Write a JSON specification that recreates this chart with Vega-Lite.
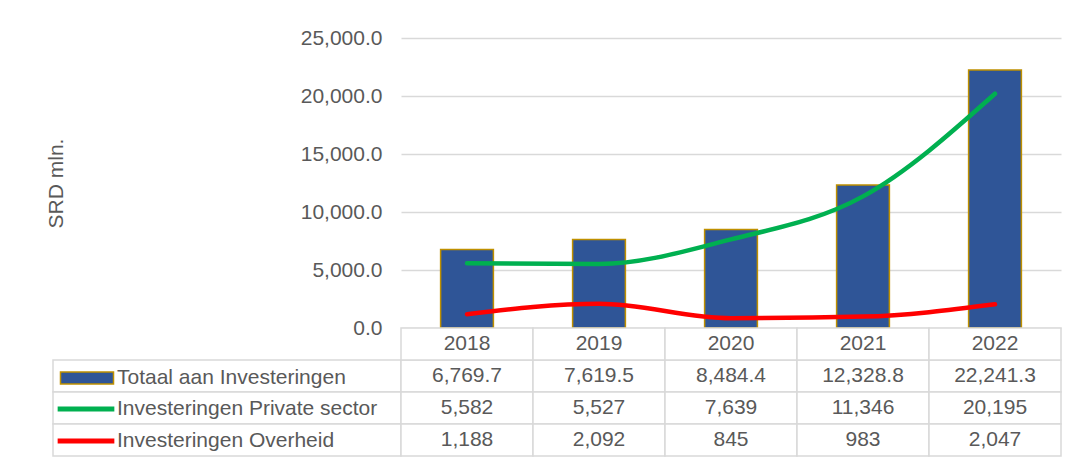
{
  "$schema": "https://vega.github.io/schema/vega-lite/v6.json",
  "padding": {"left": 45, "top": 27, "right": 0, "bottom": 0},
  "background": "white",
  "config": {"font": "Liberation Sans", "view": {"stroke": null}},
  "datasets": {
    "inv": [
      {"jaar": "2018", "reeks": "Totaal aan Investeringen", "waarde": 6769.7},
      {"jaar": "2019", "reeks": "Totaal aan Investeringen", "waarde": 7619.5},
      {"jaar": "2020", "reeks": "Totaal aan Investeringen", "waarde": 8484.4},
      {"jaar": "2021", "reeks": "Totaal aan Investeringen", "waarde": 12328.8},
      {"jaar": "2022", "reeks": "Totaal aan Investeringen", "waarde": 22241.3},
      {"jaar": "2018", "reeks": "Investeringen Private sector", "waarde": 5582},
      {"jaar": "2019", "reeks": "Investeringen Private sector", "waarde": 5527},
      {"jaar": "2020", "reeks": "Investeringen Private sector", "waarde": 7639},
      {"jaar": "2021", "reeks": "Investeringen Private sector", "waarde": 11346},
      {"jaar": "2022", "reeks": "Investeringen Private sector", "waarde": 20195},
      {"jaar": "2018", "reeks": "Investeringen Overheid", "waarde": 1188},
      {"jaar": "2019", "reeks": "Investeringen Overheid", "waarde": 2092},
      {"jaar": "2020", "reeks": "Investeringen Overheid", "waarde": 845},
      {"jaar": "2021", "reeks": "Investeringen Overheid", "waarde": 983},
      {"jaar": "2022", "reeks": "Investeringen Overheid", "waarde": 2047}
    ]
  },
  "columns": 2,
  "spacing": 0,
  "bounds": "flush",
  "concat": [
    {
      "width": 348,
      "height": 290,
      "data": {"values": []},
      "mark": {"type": "point"},
      "encoding": {}
    },
    {
      "width": 660,
      "height": 290,
      "data": {"name": "inv"},
      "encoding": {
        "x": {"field": "jaar", "type": "nominal", "scale": {"paddingInner": 0, "paddingOuter": 0}, "axis": null}
      },
      "layer": [
        {
          "transform": [{"filter": "datum.reeks === 'Totaal aan Investeringen'"}],
          "mark": {"type": "bar", "width": {"band": 0.4}, "stroke": "#BF9000", "strokeWidth": 1.5},
          "encoding": {
            "y": {
              "field": "waarde", "type": "quantitative",
              "scale": {"domain": [0, 25000], "nice": false, "zero": true},
              "axis": {
                "values": [0, 5000, 10000, 15000, 20000, 25000],
                "format": ",.1f",
                "domain": false, "ticks": false,
                "labelPadding": 19, "labelFontSize": 21, "labelColor": "#595959",
                "gridColor": "#D9D9D9", "gridWidth": 1.3,
                "title": "SRD mln.", "titleFontSize": 21, "titleFontWeight": "normal",
                "titleColor": "#595959", "titlePadding": 234
              }
            },
            "fill": {
              "field": "reeks", "type": "nominal",
              "scale": {"range": ["#2F5597"]},
              "legend": {
                "orient": "none", "legendX": 18, "legendY": 324, "title": null,
                "symbolType": "M-1.767,-0.4H1.767V0.4H-1.767Z", "symbolSize": 900,
                "symbolStrokeColor": "#BF9000", "symbolStrokeWidth": 1.5, "symbolOpacity": 1,
                "labelFontSize": 21, "labelColor": "#595959", "labelLimit": 500,
                "labelOffset": 14, "padding": 0, "rowPadding": 0
              }
            }
          }
        },
        {
          "transform": [{"filter": "datum.reeks !== 'Totaal aan Investeringen'"}],
          "mark": {"type": "line", "strokeWidth": 4.5, "interpolate": "monotone", "strokeCap": "round", "strokeJoin": "round"},
          "encoding": {
            "y": {"field": "waarde", "type": "quantitative"},
            "stroke": {
              "field": "reeks", "type": "nominal",
              "scale": {"domain": ["Investeringen Private sector", "Investeringen Overheid"], "range": ["#00B050", "#FF0000"]},
              "legend": {
                "orient": "none", "legendX": 17, "legendY": 355, "title": null,
                "symbolType": "M-2.1,0H2.1", "symbolSize": 729, "symbolStrokeWidth": 5,
                "labelFontSize": 21, "labelColor": "#595959", "labelLimit": 500,
                "labelOffset": 15, "padding": 0, "rowPadding": 6
              }
            }
          }
        }
      ]
    },
    {
      "width": 348,
      "height": 128,
      "data": {"name": "inv"},
      "transform": [{"filter": "datum.jaar === '2018'"}],
      "mark": {"type": "rect", "fill": "white", "stroke": "#D9D9D9", "strokeWidth": 1.5},
      "encoding": {
        "y": {
          "field": "reeks", "type": "nominal",
          "scale": {"domain": ["Jaar", "Totaal aan Investeringen", "Investeringen Private sector", "Investeringen Overheid"], "paddingInner": 0, "paddingOuter": 0},
          "axis": null
        }
      }
    },
    {
      "width": 660,
      "height": 128,
      "data": {"name": "inv"},
      "encoding": {
        "x": {"field": "jaar", "type": "nominal", "scale": {"paddingInner": 0, "paddingOuter": 0}, "axis": null}
      },
      "layer": [
        {
          "mark": {"type": "rect", "fill": "white", "stroke": "#D9D9D9", "strokeWidth": 1.5},
          "encoding": {
            "y": {
              "field": "reeks", "type": "nominal",
              "scale": {"domain": ["Jaar", "Totaal aan Investeringen", "Investeringen Private sector", "Investeringen Overheid"], "paddingInner": 0, "paddingOuter": 0},
              "axis": null
            }
          }
        },
        {
          "transform": [{"filter": "datum.reeks === 'Totaal aan Investeringen'"}],
          "mark": {"type": "rect", "fill": "white", "stroke": "#D9D9D9", "strokeWidth": 1.5},
          "encoding": {"y": {"datum": "Jaar"}}
        },
        {
          "transform": [{"filter": "datum.reeks === 'Totaal aan Investeringen'"}],
          "mark": {"type": "text", "fontSize": 21, "color": "#595959"},
          "encoding": {"y": {"datum": "Jaar"}, "text": {"field": "jaar", "type": "nominal"}}
        },
        {
          "transform": [{"filter": "datum.reeks === 'Totaal aan Investeringen'"}],
          "mark": {"type": "text", "fontSize": 21, "color": "#595959"},
          "encoding": {"y": {"field": "reeks", "type": "nominal"}, "text": {"field": "waarde", "type": "quantitative", "format": ",.1f"}}
        },
        {
          "transform": [{"filter": "datum.reeks !== 'Totaal aan Investeringen'"}],
          "mark": {"type": "text", "fontSize": 21, "color": "#595959"},
          "encoding": {"y": {"field": "reeks", "type": "nominal"}, "text": {"field": "waarde", "type": "quantitative", "format": ",.0f"}}
        }
      ]
    }
  ]
}
